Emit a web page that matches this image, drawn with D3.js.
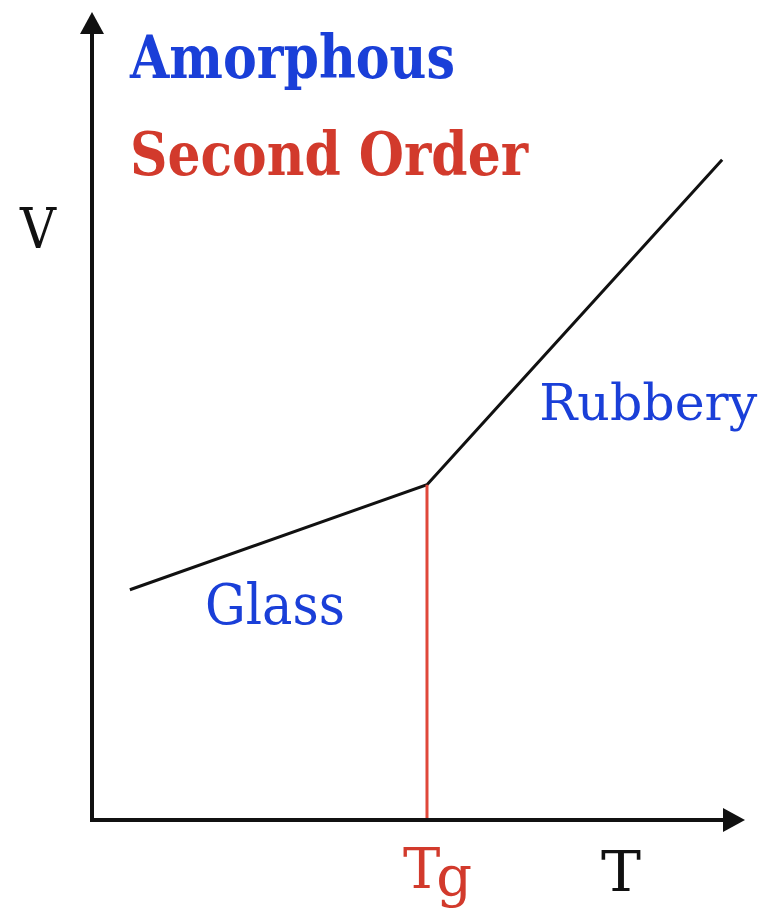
<!DOCTYPE html>
<html>
<head>
<meta charset="utf-8">
<script src="https://cdn.jsdelivr.net/npm/d3@7"></script>
<style>
	html, body { margin: 0; padding: 0; background: #fff; }
	svg { display: block; }
</style>
</head>
<body>
<div id="chart"></div>
<script>
// V vs T curve, in arbitrary units
const curveT		= [5.8, 51.3, 96.5];
const curveV		= [28.5, 41.5, 81.7];
const tg			= 51.3;

const titles		= ['Amorphous', 'Second Order'];
const titleColors	= ['#1a3fd8', '#d23a2c'];
const regionLabels	= ['Glass', 'Rubbery'];
const regionT		= [17.3, 68.5];
const regionV		= [24.3, 49.5];
const axisLabels	= ['V', 'T'];

const width		= 774;
const height	= 914;
const origin	= { x: 92, y: 820 };
const end		= { x: 745, y: 12 };

let x = d3.scaleLinear().domain([0, 100]).range([origin.x, end.x]);
let y = d3.scaleLinear().domain([0, 100]).range([origin.y, end.y]);

let svg = d3.select('#chart').append('svg')
	.attr('width', width)
	.attr('height', height);

// curve (glass + rubbery segments)
let pts = curveT.map((t, i) => [t, curveV[i]]);
svg.append('path')
	.datum(pts)
	.attr('d', d3.line().x((d) => x(d[0])).y((d) => y(d[1])))
	.attr('fill', 'none')
	.attr('stroke', '#111')
	.attr('stroke-width', 3);

// Tg drop line
svg.append('line')
	.attr('x1', x(tg)).attr('x2', x(tg))
	.attr('y1', y(curveV[1])).attr('y2', y(0))
	.attr('stroke', '#e0483a')
	.attr('stroke-width', 3);

// axes
svg.append('line')
	.attr('x1', x(0)).attr('x2', x(100) - 14)
	.attr('y1', y(0)).attr('y2', y(0))
	.attr('stroke', '#111').attr('stroke-width', 4);
svg.append('line')
	.attr('x1', x(0)).attr('x2', x(0))
	.attr('y1', y(0) + 2).attr('y2', y(100) + 14)
	.attr('stroke', '#111').attr('stroke-width', 4);

svg.append('path')
	.attr('d', `M${x(100)},${y(0)} L${x(100) - 22},${y(0) - 12} L${x(100) - 22},${y(0) + 12} Z`)
	.attr('fill', '#111');
svg.append('path')
	.attr('d', `M${x(0)},${y(100)} L${x(0) - 12},${y(100) + 22} L${x(0) + 12},${y(100) + 22} Z`)
	.attr('fill', '#111');

// titles
let titleY = [78, 175];
let titleW = [325, 398];
svg.selectAll('.title')
	.data(titles)
	.enter().append('text')
	.attr('class', 'title')
	.attr('x', 130)
	.attr('y', (d, i) => titleY[i])
	.attr('textLength', (d, i) => titleW[i])
	.attr('lengthAdjust', 'spacingAndGlyphs')
	.attr('fill', (d, i) => titleColors[i])
	.style('font-family', '"DejaVu Serif", serif')
	.style('font-weight', 'bold')
	.style('font-size', '60px')
	.text((d) => d);

// region labels
let regionW = [140, 218];
let regionSize = [56, 51];
svg.selectAll('.region')
	.data(regionLabels)
	.enter().append('text')
	.attr('class', 'region')
	.attr('x', (d, i) => x(regionT[i]))
	.attr('y', (d, i) => y(regionV[i]))
	.attr('textLength', (d, i) => regionW[i])
	.attr('lengthAdjust', 'spacingAndGlyphs')
	.attr('fill', '#1a3fd8')
	.style('font-family', '"DejaVu Serif", serif')
	.style('font-size', (d, i) => regionSize[i] + 'px')
	.text((d) => d);

// axis labels
svg.append('text')
	.attr('x', 20).attr('y', 248)
	.attr('textLength', 36).attr('lengthAdjust', 'spacingAndGlyphs')
	.attr('fill', '#111')
	.style('font-family', '"DejaVu Serif", serif')
	.style('font-size', '56px')
	.text(axisLabels[0]);
svg.append('text')
	.attr('x', 601).attr('y', 891)
	.attr('textLength', 40).attr('lengthAdjust', 'spacingAndGlyphs')
	.attr('fill', '#111')
	.style('font-family', '"DejaVu Serif", serif')
	.style('font-size', '56px')
	.text(axisLabels[1]);

let tgLabel = svg.append('text')
	.attr('x', x(tg) - 24).attr('y', 888)
	.attr('fill', '#d23a2c')
	.style('font-family', '"DejaVu Serif", serif')
	.style('font-size', '56px');
tgLabel.append('tspan').text('T');
tgLabel.append('tspan').attr('dy', 8).attr('dx', -4).text('g');
</script>
</body>
</html>
